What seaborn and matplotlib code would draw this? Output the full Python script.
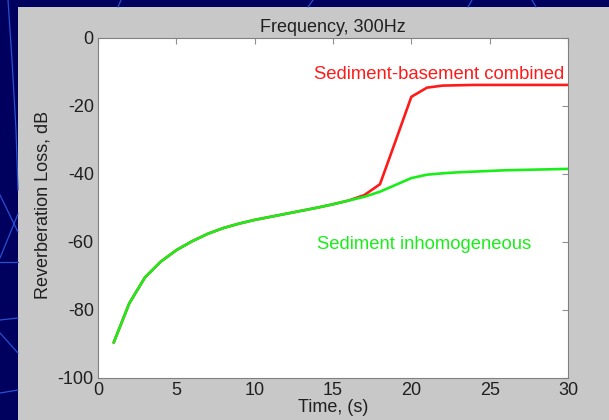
import matplotlib
matplotlib.use("Agg")
import matplotlib.pyplot as plt
import seaborn as sns
import pandas as pd
from matplotlib.patches import Rectangle
from matplotlib.lines import Line2D

# ---- data ----
time_s = list(range(1, 31))
sediment_inhomogeneous = [-89.6, -78.0, -70.4, -65.8, -62.4, -59.8, -57.6, -55.9, -54.6, -53.5,
                          -52.6, -51.7, -50.8, -49.9, -48.9, -47.8, -46.7, -45.2, -43.2, -41.2,
                          -40.2, -39.8, -39.5, -39.3, -39.1, -38.9, -38.8, -38.7, -38.6, -38.5]
sediment_basement = [-89.6, -78.0, -70.4, -65.8, -62.4, -59.8, -57.6, -55.9, -54.6, -53.5,
                     -52.6, -51.7, -50.8, -49.9, -48.9, -47.8, -46.2, -43.0, -30.2, -17.3,
                     -14.6, -14.0, -13.9, -13.8, -13.8, -13.8, -13.8, -13.8, -13.8, -13.8]
x_ticks = [0, 5, 10, 15, 20, 25, 30]
y_ticks = [0, -20, -40, -60, -80, -100]
title = "Frequency, 300Hz"
x_label = "Time, (s)"
y_label = "Reverberation Loss, dB"
label_red = "Sediment-basement combined"
label_green = "Sediment inhomogeneous"

df = pd.DataFrame({
    "t": time_s * 2,
    "loss": sediment_basement + sediment_inhomogeneous,
    "series": [label_red] * len(time_s) + [label_green] * len(time_s),
})

sns.set_theme(style="white")
plt.rcParams["font.family"] = ["Liberation Sans", "DejaVu Sans"]

fig = plt.figure(figsize=(6.09, 4.20), dpi=100)
fig.patch.set_facecolor("#00005e")
W, H = 609.0, 420.0
# grey panel (MATLAB figure area)
fig.add_artist(Rectangle((18 / W, 0), 1 - 18 / W, 1 - 7 / H,
                         transform=fig.transFigure, facecolor="#c8c8c8",
                         edgecolor="none", zorder=0))
# slide decoration lines (pixel coords from top-left)
deco = [([(8, 0), (12, 60), (16, 130), (18, 190)]),
        ([(0, 195), (18, 232)]),
        ([(0, 258), (18, 214)]),
        ([(0, 262), (18, 262)]),
        ([(0, 320), (18, 318)]),
        ([(0, 333), (18, 353)]),
        ([(0, 393), (18, 390)]),
        ([(118, 7), (121, 0)]),
        ([(308, 7), (313, 0)]),
        ([(468, 7), (472, 0)]),
        ([(536, 7), (532, 0)])]
for pts in deco:
    xs = [p[0] / W for p in pts]
    ys = [1 - p[1] / H for p in pts]
    fig.add_artist(Line2D(xs, ys, transform=fig.transFigure, color="#2a50d0",
                          lw=0.9, zorder=0.5))

ax = fig.add_axes([98 / W, 42 / H, 470 / W, 340 / H])
ax.set_facecolor("white")
sns.lineplot(data=df, x="t", y="loss", hue="series",
             palette={label_red: "#ff1a1a", label_green: "#1aee1a"},
             hue_order=[label_red, label_green],
             linewidth=1.9, legend=False, ax=ax)

ax.set_xlim(0, 30)
ax.set_ylim(-100, 0)
ax.set_xticks(x_ticks)
ax.set_yticks(y_ticks)
ax.set_xticklabels([str(v) for v in x_ticks])
ax.set_yticklabels([str(v) for v in y_ticks])
ax.tick_params(direction="in", length=4, width=0.8, color="#909090",
               top=True, right=True, labelsize=13, labelcolor="#202020", pad=3)
for s in ax.spines.values():
    s.set_color("#808080")
    s.set_linewidth(0.8)

ax.set_title(title, fontsize=13, color="#202020", pad=4)
ax.set_xlabel(x_label, fontsize=13, color="#202020")
ax.xaxis.set_label_coords(0.5, -0.062)
ax.xaxis.label.set_va("top")
ax.set_ylabel(y_label, fontsize=13, color="#202020")
ax.yaxis.set_label_coords(-0.098, 0.51)

ax.text(29.75, -10.8, label_red, color="#ff1a1a", fontsize=13.3,
        ha="right", va="center")
ax.text(14.0, -60.6, label_green, color="#1aee1a", fontsize=13.3,
        ha="left", va="center")

fig.savefig("out.png", dpi=100, facecolor=fig.get_facecolor())
